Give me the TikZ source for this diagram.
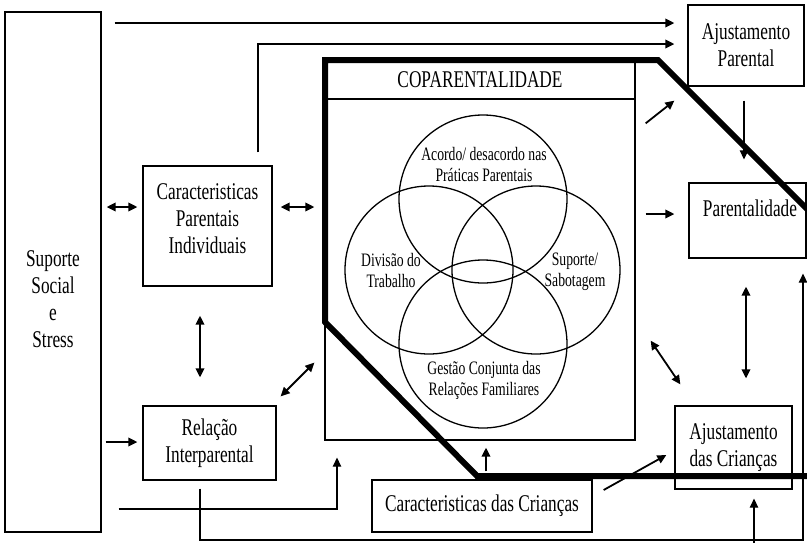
\documentclass[tikz,border=0pt]{standalone}
\usepackage{fontspec}
\setmainfont{Liberation Serif}[FakeStretch=0.72]
\usetikzlibrary{arrows.meta}
\newcommand\mainsize{\fontsize{24}{27}\selectfont}
\newcommand\vennsize{\fontsize{19}{21}\selectfont}
\begin{document}
\begin{tikzpicture}[x=1pt,y=-1pt,
  box/.style={draw, line width=1.3pt, inner sep=0pt},
  lbl/.style={align=center, font=\mainsize, inner sep=0pt},
  vlbl/.style={align=center, font=\vennsize, inner sep=0pt},
  tip/.tip={Triangle[length=9pt,width=8.5pt]},
  arr/.style={line width=1.8pt, -tip},
  darr/.style={line width=1.8pt, tip-tip},
  wire/.style={line width=1.3pt},
  ring/.style={line width=1.3pt},
  frame/.style={line width=6pt, line join=miter}
]
\clip (0,0) rectangle (807,542);

% boxes
\node[box, minimum width=96pt, minimum height=520pt] (sup) at (53,272) {};
\node[lbl] (supt) at (53,299) {Suporte\\Social\\e\\Stress};
\node[box, minimum width=129pt, minimum height=120pt] (car) at (207.5,226) {};
\node[lbl] (cart) at (207.5,219) {Caracteristicas\\Parentais\\Individuais};
\node[box, lbl, minimum width=133pt, minimum height=74pt] (rel) at (209.5,443) {Relação\\Interparental};
\node[box, lbl, minimum width=116pt, minimum height=81pt] (ajp) at (746,45.5) {Ajustamento\\Parental};
\node[box, minimum width=117pt, minimum height=75pt] (par) at (747.5,220.5) {};
\node[lbl] (part) at (750,208) {Parentalidade};
\node[box, lbl, minimum width=117pt, minimum height=83pt] (ajc) at (733.5,447.5) {Ajustamento\\das Crianças};
\node[box, lbl, minimum width=220pt, minimum height=52pt] (cri) at (482,506) {Caracteristicas das Crianças};

% coparentality box with title band
\node[box, minimum width=310pt, minimum height=380pt] (cop) at (480,250) {};
\node[lbl] (copt) at (480,80) {COPARENTALIDADE};
\draw[wire] (cop.north west |- 0,99) -- (cop.north east |- 0,99);

% four overlapping dimensions
\draw[ring] (483,199) circle[radius=84pt];
\draw[ring] (483,344) circle[radius=84pt];
\draw[ring] (429,270) circle[radius=84pt];
\draw[ring] (536,270) circle[radius=84pt];
\node[vlbl] (v1) at (484,164) {Acordo/ desacordo nas\\Práticas Parentais};
\node[vlbl] (v2) at (391,270) {Divisão do\\Trabalho};
\node[vlbl] (v3) at (575,272) {Suporte/\\Sabotagem};
\node[vlbl] (v4) at (484,380) {Gestão Conjunta das\\Relações Familiares};

% heavy outline around the family system
\draw[frame] (812,476) -- (477,476) -- (325,322) -- (325,60) -- (658,60) -- (812,214);

% connectors
\draw[arr, shorten <=13pt, shorten >=13pt] (sup.east |- 0,23) -- (ajp.west |- 0,23);
\draw[arr, shorten <=13pt, shorten >=13pt] (car.north -| 258,0) |- (ajp.west |- 0,44);
\draw[darr, shorten <=5pt, shorten >=5pt] (sup.east |- 0,207) -- (car.west |- 0,207);
\draw[darr, shorten <=8pt, shorten >=10pt] (car.east |- 0,207) -- (cop.west |- 0,207);
\draw[darr, shorten <=29pt, shorten >=28pt] (car.south -| 200,0) -- (rel.north -| 200,0);
\draw[arr, shorten <=4pt, shorten >=5pt] (sup.east |- 0,442) -- (rel.west |- 0,442);
\draw[darr] ([shift={(4,-9)}]rel.north east) -- ([shift={(-10,-78)}]cop.south west);
\draw[arr, line width=1.3pt, shorten <=8pt, shorten >=15pt] (rel.south -| 200,0) |- (803,540) -- (par.south -| 803,0);
\draw[arr, line width=1.3pt, shorten <=17pt, shorten >=17pt] (sup.east |- 0,509) -| (cop.south -| 337,0);
\draw[arr, shorten <=8pt, shorten >=7pt] (cri.north -| 486,0) -- (cop.south -| 486,0);
\draw[arr] ([shift={(11,-16)}]cri.east) -- ([shift={(-8,7.5)}]ajc.west);
\draw[arr, shorten <=10pt, shorten >=14pt] (cop.east |- 0,214) -- (par.west |- 0,214);
\draw[arr] ([shift={(10,64)}]cop.north east) -- ([shift={(-13,14)}]ajp.south west);
\draw[arr, line width=1.3pt, shorten <=14pt, shorten >=23pt] (ajp.south -| 744,0) -- (par.north -| 744,0);
\draw[darr, shorten <=28pt, shorten >=27pt] (par.south -| 746,0) -- (ajc.north -| 746,0);
\draw[darr] ([shift={(15,-100)}]cop.south east) -- ([shift={(6,-21)}]ajc.north west);
\coordinate (bot) at (754,545);
\draw[arr, line width=1.3pt, shorten >=9pt] (bot) -- (ajc.south -| 754,0);
\end{tikzpicture}
\end{document}
